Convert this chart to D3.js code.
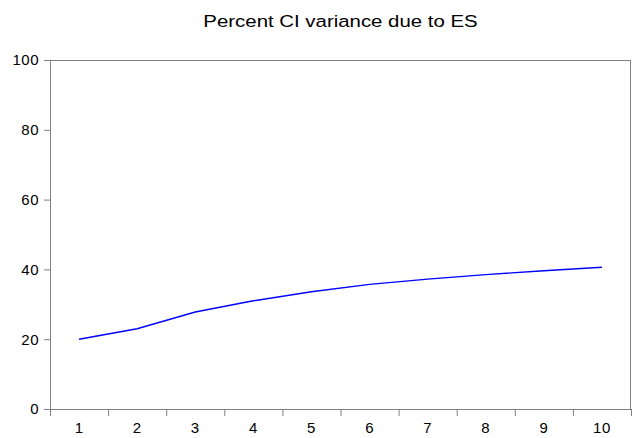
<!DOCTYPE html>
<html>
<head>
<meta charset="utf-8">
<script src="https://cdn.jsdelivr.net/npm/d3@7"></script>
<style>
  body { margin: 0; background: #fff; }
  svg text { font-family: "Liberation Sans", Arial, sans-serif; fill: #000; }
</style>
</head>
<body>
<svg id="chart" width="632" height="438"></svg>
<script>
// data
var periods = ["1", "2", "3", "4", "5", "6", "7", "8", "9", "10"];
var pctValues = [20.0, 23.0, 27.8, 31.0, 33.6, 35.7, 37.2, 38.5, 39.6, 40.6];
var yTicks = [0, 20, 40, 60, 80, 100];
var title = "Percent CI variance due to ES";

var margin = { top: 60, right: 1, bottom: 29, left: 50 };
var width = 632 - margin.left - margin.right;
var height = 438 - margin.top - margin.bottom;
var frameColor = "#808080";

var svg = d3.select("#chart")
  .append("g")
  .attr("transform", "translate(" + margin.left + "," + margin.top + ")");

var x = d3.scaleBand().domain(periods).range([0, width]).padding(0);
var xEdge = d3.scaleLinear().domain([0, periods.length]).range([0, width]);
var y = d3.scaleLinear().domain([0, 100]).range([height, 0]);

// title (glyphs a bit wider than the installed font, so stretch it)
svg.append("text")
  .attr("transform", "translate(" + (width / 2) + "," + (-33) + ") scale(1.2,1)")
  .attr("text-anchor", "middle")
  .style("font-size", "17px")
  .text(title);

// frame top/right
svg.append("line").attr("x1", 0).attr("x2", width).attr("y1", 0.5).attr("y2", 0.5)
  .attr("stroke", frameColor);
svg.append("line").attr("x1", width - 0.5).attr("x2", width - 0.5).attr("y1", 0).attr("y2", height)
  .attr("stroke", frameColor);

// y axis
var yAxis = svg.append("g")
  .call(d3.axisLeft(y).tickValues(yTicks).tickSize(6).tickPadding(5));
yAxis.selectAll("text").style("font-size", "15px").style("letter-spacing", "0.5px");

// x axis: labels in the middle of each band
var xAxis = svg.append("g")
  .attr("transform", "translate(0," + height + ")")
  .call(d3.axisBottom(x).tickSize(0).tickPadding(13));
xAxis.selectAll("text").style("font-size", "15px").style("letter-spacing", "0.5px");

// x axis: tick marks at band edges
svg.append("g")
  .attr("transform", "translate(0," + height + ")")
  .call(d3.axisBottom(xEdge).tickValues(d3.range(periods.length + 1)).tickSize(7).tickFormat(""))
  .select(".domain").remove();

svg.selectAll(".domain, .tick line").attr("stroke", frameColor);

// the line
var line = d3.line()
  .x(function(d, i) { return x(periods[i]) + x.bandwidth() / 2; })
  .y(function(d) { return y(d); });

svg.append("path")
  .datum(pctValues)
  .attr("d", line)
  .attr("fill", "none")
  .attr("stroke", "#0000ff")
  .attr("stroke-width", 1.4);
</script>
</body>
</html>
